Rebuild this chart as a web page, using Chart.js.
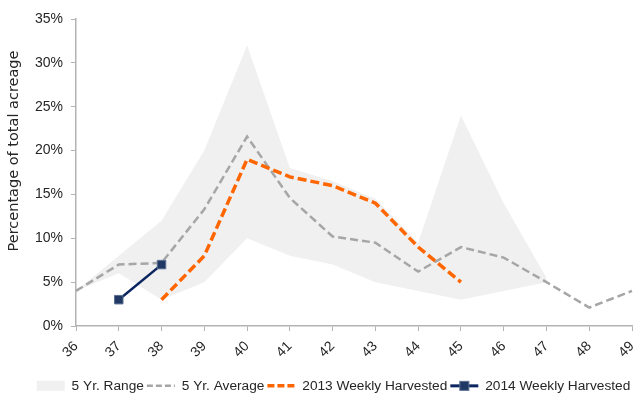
<!DOCTYPE html>
<html>
<head>
<meta charset="utf-8">
<script src="https://cdn.jsdelivr.net/npm/chart.js@4"></script>
<style>
  body { margin: 0; background: #fff; }
  #wrap { width: 641px; height: 396px; position: relative; }
</style>
</head>
<body>
<div id="wrap"><canvas id="chart"></canvas></div>
<script>
// week numbers
const weeks = ['36', '37', '38', '39', '40', '41', '42', '43', '44', '45', '46', '47', '48', '49'];

// 5 year range (low / high), percent of total acreage
const rangeLow  = [4, 6, 3, 5, 10, 8, 7, 5, 4, 3, 4, 5, null, null];
const rangeHigh = [4, 8, 12, 20, 32, 18, 16.5, 14.5, 9.5, 24, 14, 5.5, null, null];

const avg5yr    = [4, 7, 7.2, 13.3, 21.6, 14.6, 10.2, 9.5, 6.2, 9, 7.8, 5, 2.1, 4];
const harv2013  = [null, null, 3, 8, 19, 17, 16, 14, 9, 5, null, null, null, null];
const harv2014  = [null, 3, 7, null, null, null, null, null, null, null, null, null, null, null];

const yTicks = [0, 5, 10, 15, 20, 25, 30, 35];
const yTitle = 'Percentage of total acreage';

const textColor = '#262626';
const axisColor = '#b3b3b3';
const tickFont = { family: 'Liberation Sans, Arial, sans-serif', size: 14 };
const legendFont = { family: 'Liberation Sans, Arial, sans-serif', size: 13.7 };

// keep the legend on one row and squeeze it down to the bottom edge
const legendFit = {
    id: 'legendFit',
    beforeInit(chart) {
        const legend = chart.legend;
        const fit = legend.fit;
        legend.fit = function () {
            this.maxWidth = 800;
            fit.call(this);
            this.height = 20;
        };
    }
};

// y axis title sits a bit above the middle of the plot in the original
const axisTitle = {
    id: 'axisTitle',
    afterDraw(chart) {
        const ctx = chart.ctx;
        ctx.save();
        ctx.translate(14.5, 151);
        ctx.rotate(-Math.PI / 2);
        ctx.font = '14.5px "DejaVu Sans", sans-serif';
        ctx.fillStyle = textColor;
        ctx.textAlign = 'center';
        ctx.textBaseline = 'middle';
        ctx.fillText(yTitle, 0, 0);
        ctx.restore();
    }
};

// draws the square marker on top of the 2014 legend line
const legendMarker = {
    id: 'legendMarker',
    afterDraw(chart) {
        const box = chart.legend.legendHitBoxes[3];
        if (!box) return;
        const ctx = chart.ctx;
        const cx = box.left + 14;
        const cy = box.top + 6.85;
        ctx.save();
        ctx.fillStyle = '#1f3864';
        ctx.strokeStyle = '#5b6f91';
        ctx.lineWidth = 1;
        ctx.fillRect(cx - 4.5, cy - 4.5, 9, 9);
        ctx.strokeRect(cx - 4.5, cy - 4.5, 9, 9);
        ctx.restore();
    }
};

new Chart(document.getElementById('chart'), {
    type: 'line',
    data: {
        labels: weeks,
        datasets: [
            {
                label: 'low',
                data: rangeLow,
                borderWidth: 0,
                pointRadius: 0,
                fill: false,
                order: 5
            },
            {
                label: '5 Yr. Range',
                data: rangeHigh,
                borderWidth: 0,
                pointRadius: 0,
                backgroundColor: '#f0f0f0',
                fill: '-1',
                order: 4
            },
            {
                label: '5 Yr. Average',
                data: avg5yr,
                borderColor: '#a6a6a6',
                borderWidth: 2.5,
                borderDash: [8, 4],
                pointRadius: 0,
                fill: false,
                order: 3
            },
            {
                label: '2013 Weekly Harvested',
                data: harv2013,
                borderColor: '#ff6600',
                borderWidth: 3.5,
                borderDash: [9, 4],
                pointRadius: 0,
                fill: false,
                order: 2
            },
            {
                label: '2014 Weekly Harvested',
                data: harv2014,
                borderColor: '#0b2560',
                borderWidth: 2.5,
                pointStyle: 'rect',
                pointRadius: 6,
                pointBackgroundColor: '#1f3864',
                pointBorderColor: '#5b6f91',
                pointBorderWidth: 1,
                fill: false,
                order: 1
            }
        ]
    },
    options: {
        responsive: true,
        maintainAspectRatio: false,
        animation: false,
        layout: {
            padding: { left: 26, right: 0, top: 19, bottom: 0 }
        },
        scales: {
            x: {
                offset: false,
                afterFit(scale) {
                    scale.height = 50;
                    scale.paddingLeft = 0;
                    scale.paddingRight = 9;
                },
                grid: { drawOnChartArea: false, color: axisColor, tickLength: 5 },
                border: { color: axisColor, width: 1.5 },
                ticks: { color: textColor, font: tickFont, minRotation: 45, maxRotation: 45, padding: 7 }
            },
            y: {
                min: 0,
                max: 35,
                afterFit(scale) { scale.width = 50; },
                afterBuildTicks(scale) {
                    scale.ticks = yTicks.map(v => ({ value: v }));
                },
                grid: { drawOnChartArea: false, color: axisColor, tickLength: 5 },
                border: { color: axisColor, width: 1.5 },
                ticks: {
                    color: textColor,
                    font: tickFont,
                    padding: 8,
                    callback: v => v + '%'
                }
            }
        },
        plugins: {
            filler: { drawTime: 'beforeDatasetsDraw' },
            tooltip: { enabled: false },
            legend: {
                position: 'bottom',
                labels: {
                    color: textColor,
                    font: legendFont,
                    usePointStyle: true,
                    pointStyleWidth: 28,
                    boxHeight: 10,
                    padding: 3,
                    generateLabels(chart) {
                        const ds = chart.data.datasets;
                        return [
                            { text: ds[1].label, fillStyle: '#f0f0f0', strokeStyle: '#f0f0f0', lineWidth: 0, pointStyle: 'rect', fontColor: textColor, datasetIndex: 1 },
                            { text: ds[2].label, fillStyle: '#a6a6a6', strokeStyle: '#a6a6a6', lineWidth: 2.5, lineDash: [6, 3], pointStyle: 'line', fontColor: textColor, datasetIndex: 2 },
                            { text: ds[3].label, fillStyle: '#ff6600', strokeStyle: '#ff6600', lineWidth: 3.5, lineDash: [7, 3], pointStyle: 'line', fontColor: textColor, datasetIndex: 3 },
                            { text: ds[4].label, fillStyle: '#0b2560', strokeStyle: '#0b2560', lineWidth: 3, pointStyle: 'line', fontColor: textColor, datasetIndex: 4 }
                        ];
                    }
                }
            }
        }
    },
    plugins: [legendFit, axisTitle, legendMarker]
});
</script>
</body>
</html>
